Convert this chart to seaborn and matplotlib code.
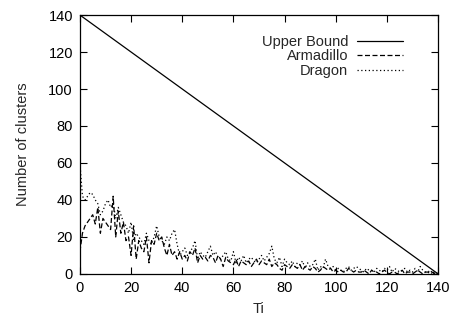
import pandas as pd
import matplotlib
matplotlib.use("Agg")
import matplotlib.pyplot as plt
import seaborn as sns

ti = list(range(141))

armadillo = [12, 22, 26, 28, 30, 32, 27, 36, 22, 30, 28, 26, 24, 42, 20, 34, 22, 28, 18, 20,
             10, 26, 8, 18, 14, 12, 20, 6, 18, 16, 22, 18, 20, 14, 10, 16, 10, 12, 8, 12,
             8, 10, 7, 12, 10, 14, 6, 10, 8, 9, 7, 10, 9, 6, 10, 8, 4, 9, 7, 6,
             5, 8, 4, 7, 6, 5, 7, 4, 6, 8, 5, 7, 6, 5, 8, 4, 6, 5, 3, 2,
             5, 4, 3, 5, 4, 3, 5, 2, 4, 3, 2, 4, 3, 1, 2, 4, 3, 2, 3, 1,
             2, 1, 2, 1, 1, 3, 2, 1, 2, 1, 1, 2, 1, 0, 2, 1, 1, 0, 1, 2,
             1, 0, 1, 1, 0, 1, 2, 0, 1, 1, 0, 1, 2, 1, 0, 1, 1, 0, 1, 0, 0]

dragon = [60, 42, 40, 42, 44, 43, 40, 38, 32, 34, 38, 40, 36, 38, 30, 36, 32, 28, 26, 22,
          28, 18, 22, 20, 18, 16, 22, 18, 16, 20, 26, 20, 18, 16, 20, 18, 22, 24, 16, 10,
          12, 14, 10, 12, 14, 18, 8, 12, 10, 9, 12, 15, 10, 12, 9, 8, 10, 12, 8, 7,
          12, 6, 9, 7, 10, 6, 8, 9, 7, 6, 8, 10, 7, 9, 11, 15, 8, 6, 9, 4,
          8, 6, 5, 7, 4, 6, 5, 7, 3, 6, 4, 5, 8, 2, 4, 3, 8, 4, 3, 4,
          2, 3, 2, 1, 3, 4, 2, 3, 4, 3, 2, 1, 3, 2, 2, 1, 3, 2, 1, 3,
          2, 4, 1, 3, 2, 1, 2, 3, 1, 2, 1, 3, 1, 4, 2, 1, 1, 2, 0, 1, 0]

bound_x = [0, 140]
bound_y = [140, 0]

sns.set_style("ticks")
plt.rcParams["font.family"] = ["Liberation Sans", "DejaVu Sans"]

fig = plt.figure(figsize=(4.54, 3.2), dpi=100)
ax = fig.add_axes([0.176, 0.144, 0.789, 0.809])

df_bound = pd.DataFrame({"Ti": bound_x, "clusters": bound_y})
df_arm = pd.DataFrame({"Ti": ti, "clusters": armadillo})
df_dra = pd.DataFrame({"Ti": ti, "clusters": dragon})

sns.lineplot(data=df_bound, x="Ti", y="clusters", ax=ax, color="black",
             linewidth=0.9, label="Upper Bound")
sns.lineplot(data=df_arm, x="Ti", y="clusters", ax=ax, color="black",
             linewidth=0.9, linestyle=(0, (4, 2)), label="Armadillo")
sns.lineplot(data=df_dra, x="Ti", y="clusters", ax=ax, color="black",
             linewidth=0.9, linestyle=(0, (1, 2)), label="Dragon")

ax.set_xlim(0, 140)
ax.set_ylim(0, 140)
ax.set_xticks(range(0, 141, 20))
ax.set_yticks(range(0, 141, 20))
ax.set_xlabel("Ti", fontsize=10.5, labelpad=5)
ax.set_ylabel("Number of clusters", fontsize=10.5, labelpad=13)
ax.tick_params(direction="in", top=True, right=True, labelsize=10.5,
               length=5, width=0.8, pad=5, colors="black")
for s in ax.spines.values():
    s.set_linewidth(0.9)
    s.set_color("black")

ax.legend(loc="upper right", frameon=False, markerfirst=False, fontsize=10.5,
          handlelength=3.2, handletextpad=0.6, labelspacing=0.05,
          bbox_to_anchor=(0.94, 0.975))

fig.savefig("out.png", dpi=100)
